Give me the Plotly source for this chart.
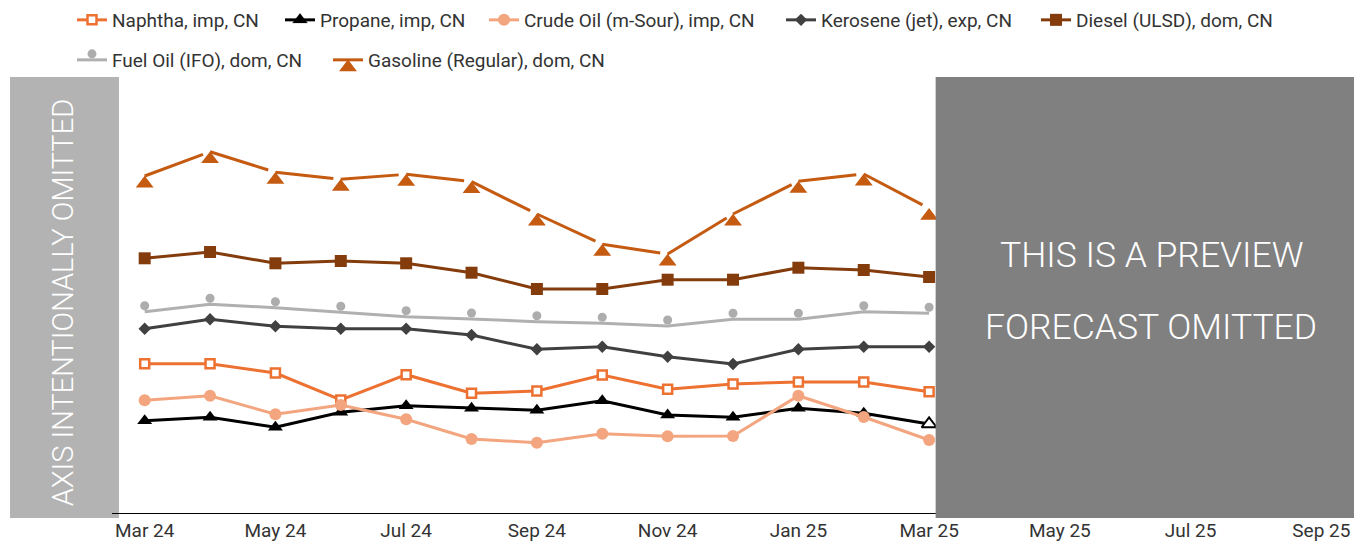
import plotly.graph_objects as go

# ---- data (arbitrary units; value axis intentionally omitted) ----
months = ["Mar 24", "Apr 24", "May 24", "Jun 24", "Jul 24", "Aug 24", "Sep 24",
          "Oct 24", "Nov 24", "Dec 24", "Jan 25", "Feb 25", "Mar 25"]
tick_labels = ["Mar 24", "May 24", "Jul 24", "Sep 24", "Nov 24", "Jan 25",
               "Mar 25", "May 25", "Jul 25", "Sep 25"]

naphtha = [149.3, 149.3, 140.0, 113.0, 138.3, 119.7, 122.0, 138.0, 123.7, 129.0, 131.0, 131.0, 121.3]
propane = [92.3, 95.7, 85.7, 100.7, 107.3, 104.7, 102.7, 112.3, 98.0, 95.7, 104.7, 99.7, 89.0]
crude = [112.7, 117.3, 98.7, 108.0, 93.7, 74.0, 70.3, 79.3, 76.7, 77.0, 117.3, 96.0, 73.0]
kerosene = [184.3, 193.7, 186.7, 184.3, 184.3, 178.0, 163.7, 166.3, 156.3, 149.0, 163.7, 166.3, 166.3]
diesel = [254.7, 261.0, 249.7, 252.0, 249.7, 240.3, 224.0, 224.0, 233.3, 233.3, 245.3, 243.0, 236.0]
fuel_oil = [201.3, 208.7, 205.3, 200.7, 196.3, 194.0, 191.3, 189.7, 187.0, 193.7, 193.7, 201.3, 199.7]
gasoline = [337.0, 361.3, 340.7, 333.7, 338.7, 331.3, 299.0, 268.7, 259.0, 299.0, 331.7, 339.0, 304.7]

x_idx = list(range(len(months)))
tick_idx = [2 * i for i in range(len(tick_labels))]

FONT = "Roboto, Arial, sans-serif"
n = len(months)

fig = go.Figure()

def add(name, y, color, legend, marker, line_width=3, legend_marker=None):
    fig.add_trace(go.Scatter(
        x=x_idx, y=y, name=name, mode="lines+markers",
        line=dict(color=color, width=line_width),
        marker=marker, legend=legend, text=months,
        showlegend=legend_marker is None,
        hovertemplate="%{text}: %{y}<extra>" + name + "</extra>",
    ))
    if legend_marker is not None:
        # legend-only entry (the legend renders marker offsets mirrored)
        fig.add_trace(go.Scatter(
            x=[None], y=[None], name=name, mode="lines+markers",
            line=dict(color=color, width=line_width),
            marker=legend_marker, legend=legend, hoverinfo="skip",
        ))

add("Naphtha, imp, CN", naphtha, "#ED7131", "legend",
    dict(symbol="square", size=9, color="white", line=dict(color="#ED7131", width=2.5)))
add("Propane, imp, CN", propane, "#000000", "legend2",
    dict(symbol="triangle-up", size=13,
         color=["#000000"] * (n - 1) + ["white"],
         line=dict(color="#000000", width=[0] * (n - 1) + [2])))
add("Crude Oil (m-Sour), imp, CN", crude, "#F3A57F", "legend3",
    dict(symbol="circle", size=12, color="#F3A57F"))
add("Kerosene (jet), exp, CN", kerosene, "#404040", "legend4",
    dict(symbol="diamond", size=9.5, color="#404040"))
add("Diesel (ULSD), dom, CN", diesel, "#843C0C", "legend5",
    dict(symbol="square", size=12, color="#843C0C"))
add("Fuel Oil (IFO), dom, CN", fuel_oil, "#B0B0B0", "legend6",
    dict(symbol="circle", size=9, color="#ADADAD", standoff=6, angle=180),
    legend_marker=dict(symbol="circle", size=9, color="#ADADAD", standoff=6, angle=0))
add("Gasoline (Regular), dom, CN", gasoline, "#C55A11", "legend7",
    dict(symbol="triangle-up", size=15.5, color="#C55A11", standoff=7.5, angle=0),
    legend_marker=dict(symbol="triangle-down", size=15.5, color="#C55A11", standoff=7.5, angle=180))

# ---- overlay boxes ----
fig.add_shape(type="rect", xref="paper", yref="paper",
              x0=-0.0821, x1=0.0056, y0=-0.0115, y1=1.0,
              fillcolor="#B3B3B3", line_width=0, layer="between")
fig.add_shape(type="rect", xref="x", yref="paper",
              x0=12.1, x1=18.5, y0=-0.0115, y1=1.0,
              fillcolor="#808080", line_width=0, layer="above")

fig.add_annotation(text="AXIS INTENTIONALLY OMITTED", textangle=-90,
                   xref="paper", yref="paper", x=-0.0395, y=0.483,
                   xanchor="center", yanchor="middle",
                   showarrow=False, font=dict(family=FONT, size=29, color="white", weight=300))
fig.add_annotation(text="THIS IS A PREVIEW", xref="paper", yref="paper",
                   x=0.8366, y=0.592, xanchor="center", yanchor="middle", showarrow=False,
                   font=dict(family=FONT, size=35.5, color="white", weight=300))
fig.add_annotation(text="FORECAST OMITTED", xref="paper", yref="paper",
                   x=0.8366, y=0.427, xanchor="center", yanchor="middle", showarrow=False,
                   font=dict(family=FONT, size=35.5, color="white", weight=300))

# ---- legends (one per entry, to match the free layout) ----
W = 1242.0
H = 436.0
def lx(px):
    return (px - 112) / W
def ly(py):
    return (513 - py) / H

leg_common = dict(font=dict(family=FONT, size=19, color="#333333"),
                  bgcolor="rgba(0,0,0,0)", xanchor="left", yanchor="middle",
                  orientation="h", borderwidth=0)
legend_pos = {
    "legend": (72, 20), "legend2": (280, 20), "legend3": (484, 20),
    "legend4": (781, 20), "legend5": (1036, 20),
    "legend6": (72, 60), "legend7": (328, 60),
}
layout_legends = {}
for key, (px, py) in legend_pos.items():
    layout_legends[key] = dict(x=lx(px), y=ly(py), **leg_common)

fig.update_layout(
    width=1363, height=544,
    margin=dict(l=112, r=9, t=77, b=31, autoexpand=False),
    paper_bgcolor="white", plot_bgcolor="white",
    showlegend=True,
    xaxis=dict(range=[-0.5, 18.5], tickmode="array", tickvals=tick_idx,
               ticktext=tick_labels, showgrid=False, zeroline=False,
               showline=True, linecolor="black", linewidth=1, ticks="",
               tickfont=dict(family=FONT, size=19, color="#333333")),
    yaxis=dict(range=[0, 436], visible=False, showgrid=False, zeroline=False),
    **layout_legends,
)

fig.write_html("out.html", config={"displayModeBar": False},
               post_script="document.body.style.margin='0px';document.body.style.overflow='hidden';")
